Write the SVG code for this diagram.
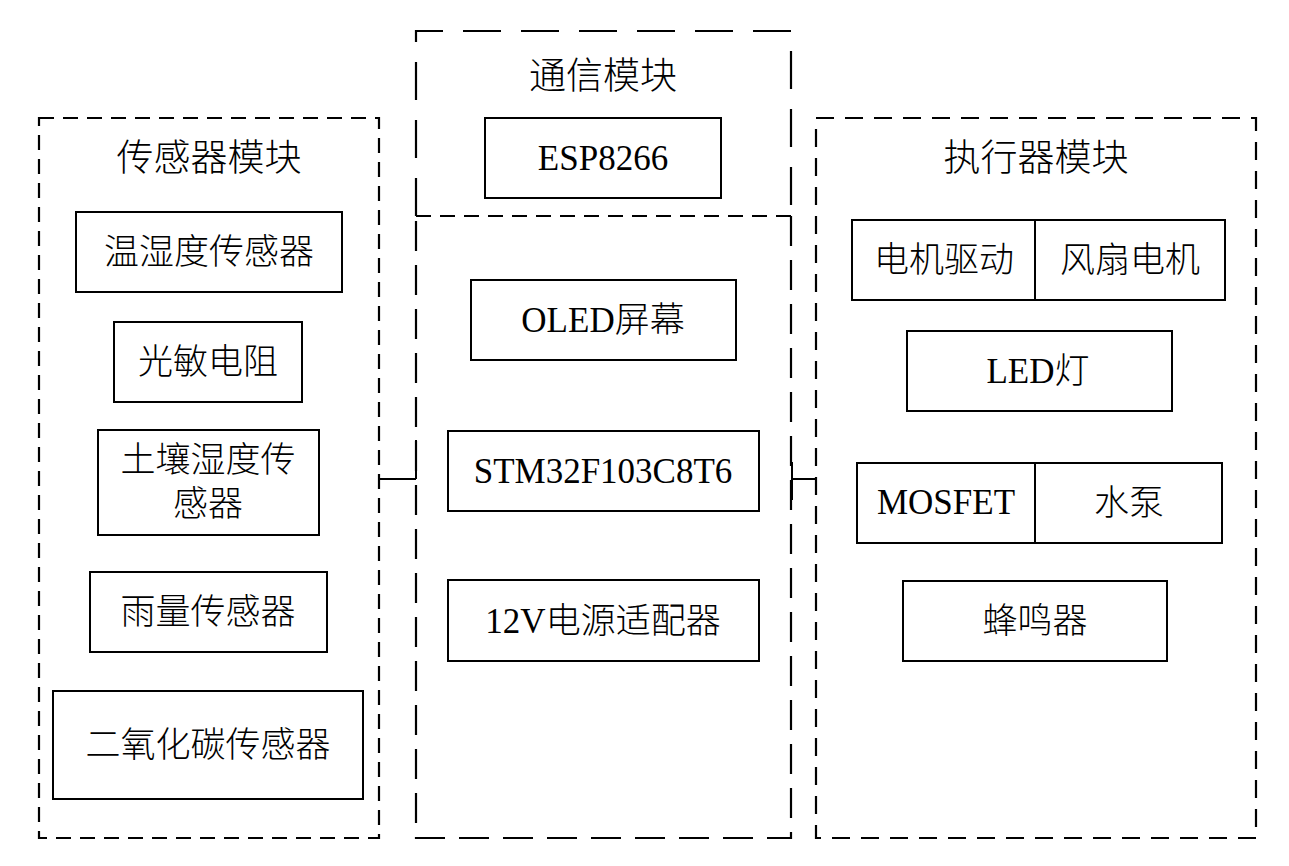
<svg xmlns="http://www.w3.org/2000/svg" width="1289" height="866" viewBox="0 0 1289 866">
<style>
.grp{fill:none;stroke:#000;stroke-width:2.2}
.node{fill:#fff;stroke:#000;stroke-width:2}
.t{font-family:"Liberation Serif","Noto Sans CJK SC",serif;font-size:35px;font-weight:300;fill:#000;text-anchor:middle;dominant-baseline:central}
.title{font-family:"Liberation Serif","Noto Sans CJK SC",serif;font-size:37px;font-weight:300;fill:#000;text-anchor:middle;dominant-baseline:central}
.conn{stroke:#000;stroke-width:2;fill:none}
</style>
<rect width="1289" height="866" fill="#fff"/>
<g id="sensor-module">
<rect class="grp" x="39" y="118" width="340" height="720" stroke-dasharray="15 9"/>
<text class="title" x="209" y="158">传感器模块</text>
</g>
<g id="comm-module">
<path class="grp" d="M416 216 V31 H791 V216" stroke-dasharray="38 20"/>
<text class="title" x="603" y="76">通信模块</text>
</g>
<g id="core-module">
<path class="grp" d="M416 216 H791" stroke-dasharray="15 9"/>
<path class="grp" d="M791 216 V838 H416 V216" stroke-dasharray="30 14"/>
</g>
<g id="actuator-module">
<rect class="grp" x="816" y="118" width="440" height="720" stroke-dasharray="18 11"/>
<text class="title" x="1036" y="158">执行器模块</text>
</g>
<g id="n-th"><rect class="node" x="76" y="212" width="266" height="80"/><text class="t" x="209" y="252">温湿度传感器</text></g>
<g id="n-light"><rect class="node" x="114" y="322" width="188" height="80"/><text class="t" x="208" y="362">光敏电阻</text></g>
<g id="n-soil"><rect class="node" x="98" y="430" width="221" height="105"/><text class="t" x="208" y="460">土壤湿度传</text><text class="t" x="208" y="504">感器</text></g>
<g id="n-rain"><rect class="node" x="90" y="572" width="237" height="80"/><text class="t" x="208" y="612">雨量传感器</text></g>
<g id="n-co2"><rect class="node" x="53" y="691" width="310" height="108"/><text class="t" x="208" y="745">二氧化碳传感器</text></g>
<g id="n-esp"><rect class="node" x="485" y="118" width="236" height="80"/><text class="t" x="603" y="158">ESP8266</text></g>
<g id="n-oled"><rect class="node" x="471" y="280" width="265" height="80"/><text class="t" x="603" y="320">OLED屏幕</text></g>
<g id="n-stm"><rect class="node" x="448" y="431" width="311" height="80"/><text class="t" x="603" y="471">STM32F103C8T6</text></g>
<g id="n-power"><rect class="node" x="448" y="580" width="311" height="81"/><text class="t" x="603" y="621">12V电源适配器</text></g>
<g id="n-motor"><rect class="node" x="852" y="220" width="373" height="80"/><line class="conn" x1="1035" y1="220" x2="1035" y2="300"/><text class="t" x="944" y="260">电机驱动</text><text class="t" x="1130" y="260">风扇电机</text></g>
<g id="n-led"><rect class="node" x="907" y="331" width="265" height="80"/><text class="t" x="1038" y="371">LED灯</text></g>
<g id="n-pump"><rect class="node" x="857" y="463" width="365" height="80"/><line class="conn" x1="1035" y1="463" x2="1035" y2="543"/><text class="t" x="946" y="502">MOSFET</text><text class="t" x="1129" y="503">水泵</text></g>
<g id="n-buzzer"><rect class="node" x="903" y="581" width="264" height="80"/><text class="t" x="1035" y="621">蜂鸣器</text></g>
<g id="connectors">
<line class="conn" x1="379" y1="479" x2="416" y2="479"/>
<line class="conn" x1="416" y1="440" x2="416" y2="479"/>
<line class="conn" x1="791" y1="479" x2="816" y2="479"/>
<line class="conn" x1="792" y1="462" x2="792" y2="500"/>
</g>
</svg>
